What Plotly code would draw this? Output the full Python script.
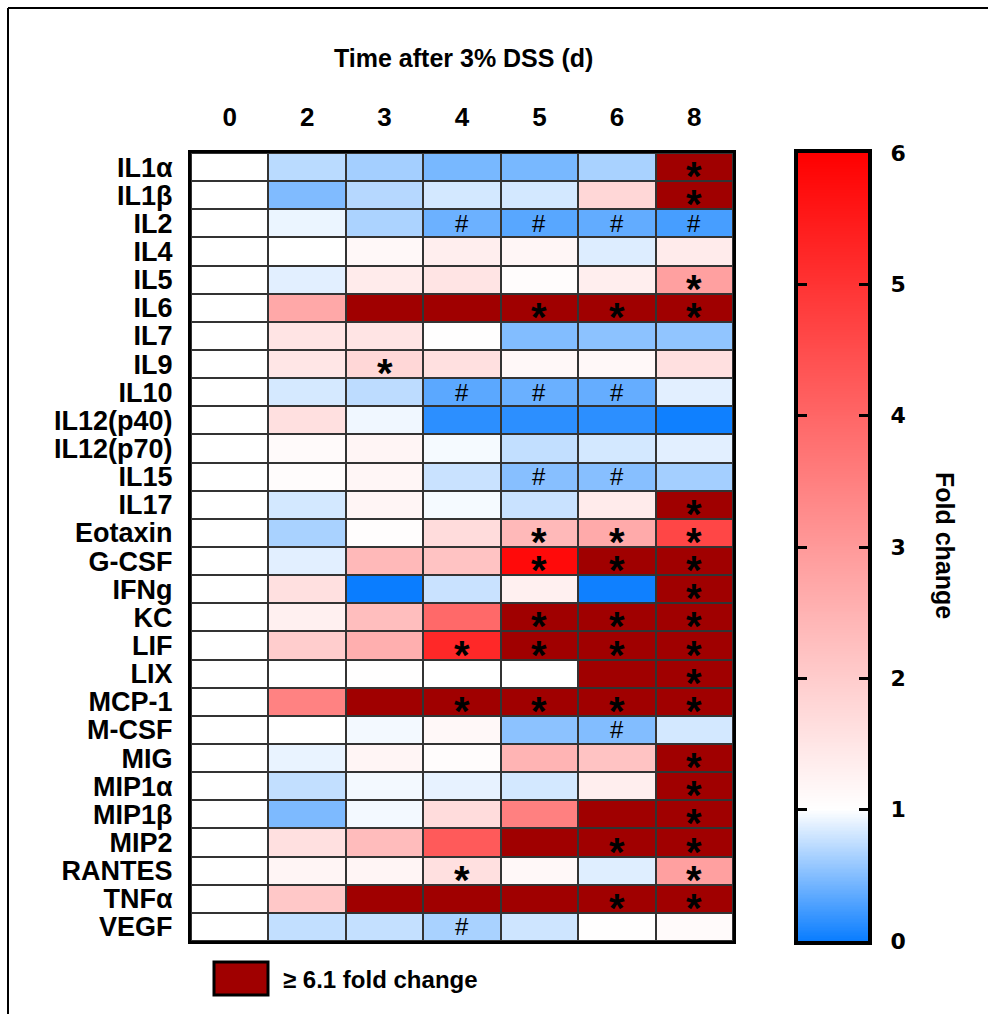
import numpy as np
import plotly.graph_objects as go

# ---------------- data ----------------
days = ["0", "2", "3", "4", "5", "6", "8"]
analytes = ["IL1α", "IL1β", "IL2", "IL4", "IL5", "IL6", "IL7", "IL9", "IL10",
            "IL12(p40)", "IL12(p70)", "IL15", "IL17", "Eotaxin", "G-CSF", "IFNg",
            "KC", "LIF", "LIX", "MCP-1", "M-CSF", "MIG", "MIP1α", "MIP1β", "MIP2",
            "RANTES", "TNFα", "VEGF"]
HI = 6.5  # cells shown as ">= 6.1 fold change" (exact value not readable)
fold = [
    [1.0, 0.72, 0.63, 0.45, 0.45, 0.65, HI],
    [1.0, 0.48, 0.70, 0.82, 0.82, 1.78, HI],
    [1.0, 0.92, 0.66, 0.40, 0.32, 0.36, 0.25],
    [1.0, 1.00, 1.14, 1.33, 1.18, 0.86, 1.40],
    [1.0, 0.88, 1.40, 1.53, 1.06, 1.33, 2.86],
    [1.0, 2.70, HI, HI, HI, HI, HI],
    [1.0, 1.53, 1.53, 1.02, 0.49, 0.53, 0.55],
    [1.0, 1.50, 1.78, 1.60, 1.14, 1.14, 1.60],
    [1.0, 0.83, 0.73, 0.33, 0.39, 0.37, 0.88],
    [1.0, 1.60, 0.94, 0.14, 0.14, 0.14, 0.02],
    [1.0, 1.10, 1.20, 0.96, 0.75, 0.82, 0.88],
    [1.0, 1.06, 1.18, 0.78, 0.51, 0.51, 0.63],
    [1.0, 0.82, 1.20, 0.96, 0.78, 1.40, HI],
    [1.0, 0.65, 1.04, 1.69, 2.37, 2.67, 4.63],
    [1.0, 0.88, 2.37, 2.18, 5.80, HI, HI],
    [1.0, 1.60, 0.00, 0.78, 1.29, 0.02, HI],
    [1.0, 1.29, 2.27, 3.94, HI, HI, HI],
    [1.0, 1.98, 2.57, 5.22, HI, HI, HI],
    [1.0, 1.00, 1.01, 1.00, 1.00, HI, HI],
    [1.0, 3.45, HI, HI, HI, HI, HI],
    [1.0, 1.00, 0.95, 1.14, 0.53, 0.49, 0.82],
    [1.0, 0.91, 1.20, 1.06, 2.47, 2.18, HI],
    [1.0, 0.75, 0.95, 0.90, 0.82, 1.33, HI],
    [1.0, 0.47, 0.95, 1.69, 3.49, HI, HI],
    [1.0, 1.60, 2.31, 4.24, HI, HI, HI],
    [1.0, 1.20, 1.20, 1.60, 1.14, 0.87, 2.86],
    [1.0, 2.08, HI, HI, HI, HI, HI],
    [1.0, 0.75, 0.76, 0.65, 0.80, 1.02, 1.10],
]
# significance marks per cell ('-' = none)
marks = [
    "------*", "------*", "---####", "-------", "------*", "----***", "-------",
    "--*----", "---###-", "-------", "-------", "----##-", "------*", "----***",
    "----***", "------*", "----***", "---****", "------*", "---****", "-----#-",
    "------*", "------*", "------*", "-----**", "---*--*", "-----**", "---#---",
]
cbar_ticks = [0, 1, 2, 3, 4, 5, 6]
threshold = 6.1

# ---------------- styling ----------------
W, H = 988, 1014
L, R, T, B = 191, 120, 153, 73
PW, PH = W - L - R, H - T - B
FONT = "Liberation Sans, Arial, Helvetica, sans-serif"
BLUE, WHITE, RED, DARK = "#0A7DFF", "#FFFFFF", "#FF0000", "#A00000"


def px(x):
    return (x - L) / PW


def py(y):
    return 1 - (y - T) / PH


z = np.array(fold, dtype=float)
z_norm = np.where(z >= threshold, np.nan, z)
z_hi = np.where(z >= threshold, 1.0, np.nan)
nrow, ncol = z.shape
xi = list(range(ncol))   # column positions on the axis
yi = list(range(nrow))   # row positions on the axis

fig = go.Figure()
fig.add_trace(go.Heatmap(
    z=z_norm, x=xi, y=yi, zmin=0, zmax=6,
    colorscale=[[0, BLUE], [1 / 6, WHITE], [1, RED]],
    showscale=False, xgap=2, ygap=2, hoverongaps=False,
))
fig.add_trace(go.Heatmap(
    z=z_hi, x=xi, y=yi, zmin=0, zmax=1,
    colorscale=[[0, DARK], [1, DARK]],
    showscale=False, xgap=2, ygap=2, hoverongaps=False,
))

# colour scale strip
levels = np.linspace(0, 6, 601)
fig.add_trace(go.Heatmap(
    z=[[v] for v in levels], y=levels, x=[0], zmin=0, zmax=6,
    colorscale=[[0, BLUE], [1 / 6, WHITE], [1, RED]],
    showscale=False, xaxis="x2", yaxis="y2", hoverinfo="skip",
))

# marks
for i, row in enumerate(marks):
    for j, m in enumerate(row):
        if m == "*":
            fig.add_annotation(x=xi[j], y=yi[i], text="<b>*</b>", showarrow=False,
                               xanchor="center", yanchor="middle",
                               font=dict(size=40, color="black", family=FONT), yshift=-9)
        elif m == "#":
            fig.add_annotation(x=xi[j], y=yi[i], text="#", showarrow=False,
                               xanchor="center", yanchor="middle",
                               font=dict(size=24, color="black", family=FONT), yshift=0)

x_end = px(733)
cb0, cb1 = px(798), 1.0

fig.update_layout(
    width=W, height=H,
    margin=dict(l=L, r=R, t=T, b=B, autoexpand=False),
    paper_bgcolor="white", plot_bgcolor="#333333",
    font=dict(family=FONT, color="black"),
    showlegend=False,
    xaxis=dict(domain=[0, x_end], side="top", showgrid=False,
               range=[-0.5, ncol - 0.5], autorange=False,
               zeroline=False, showline=True, linewidth=3, linecolor="black", mirror=True,
               ticks="", ticklabelstandoff=14, tickmode="array",
               tickvals=xi, ticktext=days, automargin=False,
               tickfont=dict(size=26, family=FONT, weight="bold"), fixedrange=True),
    yaxis=dict(range=[nrow - 0.5, -0.5], autorange=False,
               showgrid=False, zeroline=False,
               showline=True, linewidth=3, linecolor="black", mirror=True,
               ticks="", ticklabelstandoff=10, tickmode="array",
               tickvals=yi, ticktext=analytes, automargin=False,
               tickfont=dict(size=27, family=FONT, weight="bold"), fixedrange=True),
    xaxis2=dict(domain=[cb0, cb1], anchor="y2", showticklabels=False, showgrid=False,
                zeroline=False, showline=True, linewidth=4, linecolor="black", mirror=True,
                ticks="", fixedrange=True, automargin=False),
    yaxis2=dict(domain=[0, 1], anchor="x2", side="right", range=[0, 6],
                tickvals=cbar_ticks, ticks="inside", ticklen=9, tickwidth=3,
                tickcolor="black", showgrid=False, zeroline=False, showline=True,
                linewidth=4, linecolor="black", mirror="ticks", ticklabelstandoff=14,
                automargin=False,
                tickfont=dict(size=22, family="DejaVu Sans", weight="bold"),
                fixedrange=True),
)

# title and colour-bar title
fig.add_annotation(x=px(463), y=py(58), xref="paper", yref="paper", showarrow=False,
                   xanchor="center", yanchor="middle",
                   text="<b>Time after 3% DSS (d)</b>", font=dict(size=25, family=FONT))
fig.add_annotation(x=px(945), y=py(545), xref="paper", yref="paper", showarrow=False,
                   xanchor="center", yanchor="middle",
                   textangle=90, text="<b>Fold change</b>", font=dict(size=25, family=FONT))

# legend for >= 6.1
fig.add_shape(type="rect", xref="paper", yref="paper",
              x0=px(214), x1=px(268), y0=py(962), y1=py(995),
              fillcolor=DARK, line=dict(color="black", width=3))
fig.add_annotation(x=px(281), y=py(979), xref="paper", yref="paper", showarrow=False,
                   xanchor="left", yanchor="middle", text="<b>≥ 6.1 fold change</b>",
                   font=dict(size=24, family=FONT))

# outer frame
fig.add_shape(type="line", xref="paper", yref="paper", x0=px(8), x1=px(990),
              y0=py(8), y1=py(8), line=dict(color="black", width=2))
fig.add_shape(type="line", xref="paper", yref="paper", x0=px(8), x1=px(8),
              y0=py(8), y1=py(1016), line=dict(color="black", width=2))

fig.write_html("out.html")
